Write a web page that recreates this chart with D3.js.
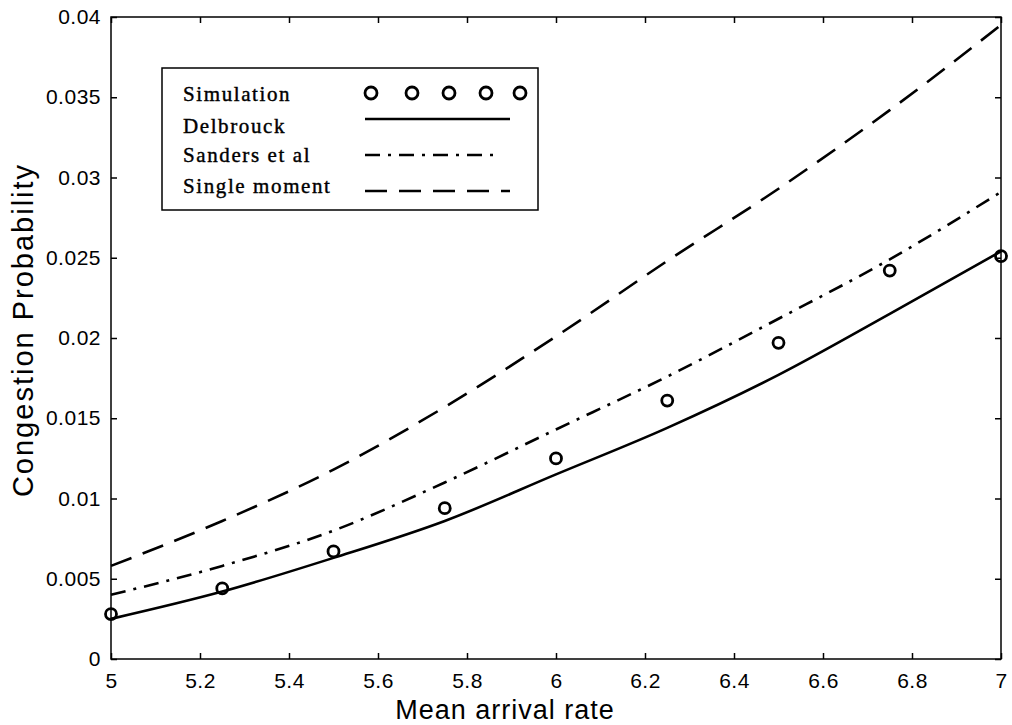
<!DOCTYPE html>
<html>
<head>
<meta charset="utf-8">
<script src="https://cdnjs.cloudflare.com/ajax/libs/d3/7.8.5/d3.min.js"></script>
<style>
    body { margin: 0; background: #fff; }
    svg { display: block; }
    .tick text { font-family: "Liberation Sans", Arial, sans-serif; }
</style>
</head>
<body>
<svg id="chart" width="1012" height="725"></svg>
<script>

// arrival rates (x) and congestion probabilities
var rates = [5, 5.25, 5.5, 5.75, 6, 6.25, 6.5, 6.75, 7];
var simulation = [0.0028, 0.0044, 0.0067, 0.0094, 0.0125, 0.0161, 0.0197, 0.0242, 0.0251];
var delbrouck = [0.0025, 0.0042, 0.0063, 0.0086, 0.0115, 0.0144, 0.0177, 0.0215, 0.0254];
var sanders = [0.0040, 0.0058, 0.0080, 0.0110, 0.0143, 0.0176, 0.0212, 0.0249, 0.0291];
var singleMoment = [0.0058, 0.0086, 0.0118, 0.0157, 0.0201, 0.0248, 0.0293, 0.0342, 0.0395];

var xTicks = [5, 5.2, 5.4, 5.6, 5.8, 6, 6.2, 6.4, 6.6, 6.8, 7];
var yTicks = [0, 0.005, 0.01, 0.015, 0.02, 0.025, 0.03, 0.035, 0.04];
var legendNames = ['Simulation', 'Delbrouck', 'Sanders et al', 'Single moment'];

const margin = {'left': 111, 'top': 17, 'right': 1001, 'bottom': 659};

var svg = d3.select('#chart');

var x = d3.scaleLinear().domain([5, 7]).range([margin.left, margin.right]);
var y = d3.scaleLinear().domain([0, 0.04]).range([margin.bottom, margin.top]);

function fmt(d) {
    return d3.format('')(+d.toFixed(3));
}

// bottom and left axes, ticks pointing inward
svg.append('g')
    .attr('transform', 'translate(0,' + margin.bottom + ')')
    .call(d3.axisBottom(x).tickValues(xTicks).tickSize(-6).tickPadding(14).tickFormat(fmt))
    .call(function(g) { g.select('.domain').remove(); });

svg.append('g')
    .attr('transform', 'translate(' + margin.left + ',0)')
    .call(d3.axisLeft(y).tickValues(yTicks).tickSize(-6).tickPadding(10).tickFormat(fmt))
    .call(function(g) { g.select('.domain').remove(); });

// top and right axes without labels
svg.append('g')
    .attr('transform', 'translate(0,' + margin.top + ')')
    .call(d3.axisTop(x).tickValues(xTicks).tickSize(-6).tickFormat(''))
    .call(function(g) { g.select('.domain').remove(); });

svg.append('g')
    .attr('transform', 'translate(' + margin.right + ',0)')
    .call(d3.axisRight(y).tickValues(yTicks).tickSize(-6).tickFormat(''))
    .call(function(g) { g.select('.domain').remove(); });

svg.selectAll('.tick line').attr('stroke', '#000').attr('stroke-width', 1.5);
svg.selectAll('.tick text')
    .attr('fill', '#000')
    .style('font-size', '21px')
    .style('letter-spacing', '0.5px');

svg.append('rect')
    .attr('x', margin.left)
    .attr('y', margin.top)
    .attr('width', margin.right - margin.left)
    .attr('height', margin.bottom - margin.top)
    .attr('fill', 'none')
    .attr('stroke', '#000')
    .attr('stroke-width', 1.5);

// axis titles
svg.append('text')
    .attr('x', 505)
    .attr('y', 719)
    .attr('text-anchor', 'middle')
    .style('font-family', '"Liberation Sans", Arial, sans-serif')
    .style('font-size', '27px')
    .style('letter-spacing', '1px')
    .text('Mean arrival rate');

svg.append('text')
    .attr('transform', 'translate(33,330) rotate(-90)')
    .attr('text-anchor', 'middle')
    .style('font-family', '"Liberation Sans", Arial, sans-serif')
    .style('font-size', '29px')
    .style('letter-spacing', '2px')
    .text('Congestion Probability');

// curves
var series = [
    {'values': delbrouck, 'dash': null},
    {'values': sanders, 'dash': '15,8,3,8'},
    {'values': singleMoment, 'dash': '22,12'}
];

var line = d3.line()
    .x(function(d) { return x(d[0]); })
    .y(function(d) { return y(d[1]); })
    .curve(d3.curveMonotoneX);

for (var i = 0; i < series.length; i++) {
    svg.append('path')
        .datum(d3.zip(rates, series[i].values))
        .attr('d', line)
        .attr('fill', 'none')
        .attr('stroke', '#000')
        .attr('stroke-width', 2.6)
        .attr('stroke-dasharray', series[i].dash);
}

svg.append('g').selectAll('circle')
    .data(d3.zip(rates, simulation))
    .join('circle')
    .attr('cx', function(d) { return x(d[0]); })
    .attr('cy', function(d) { return y(d[1]); })
    .attr('r', 5.5)
    .attr('fill', 'none')
    .attr('stroke', '#000')
    .attr('stroke-width', 2.8);

// legend
const legend = {'x': 162, 'y': 68, 'w': 376, 'h': 142};
var lg = svg.append('g');
lg.append('rect')
    .attr('x', legend.x)
    .attr('y', legend.y)
    .attr('width', legend.w)
    .attr('height', legend.h)
    .attr('fill', '#fff')
    .attr('stroke', '#000')
    .attr('stroke-width', 1.5);

var textY = [101, 133, 162, 193];
var sampleY = [93, 119, 155, 191];
var sampleEnd = [520, 510, 500, 510];

lg.selectAll('text')
    .data(legendNames)
    .join('text')
    .attr('x', legend.x + 21)
    .attr('y', function(d, k) { return textY[k]; })
    .attr('stroke', '#000')
    .attr('stroke-width', 0.4)
    .style('font-family', '"Liberation Serif", "Times New Roman", serif')
    .style('font-size', '21px')
    .style('letter-spacing', '1.6px')
    .text(function(d) { return d; });

lg.selectAll('circle')
    .data([371, 412, 449, 486, 520])
    .join('circle')
    .attr('cx', function(d) { return d; })
    .attr('cy', sampleY[0])
    .attr('r', 6)
    .attr('fill', 'none')
    .attr('stroke', '#000')
    .attr('stroke-width', 2.8);

for (var k = 0; k < series.length; k++) {
    lg.append('line')
        .attr('x1', 365)
        .attr('x2', sampleEnd[k + 1])
        .attr('y1', sampleY[k + 1])
        .attr('y2', sampleY[k + 1])
        .attr('stroke', '#000')
        .attr('stroke-width', 2.6)
        .attr('stroke-dasharray', series[k].dash);
}
</script>
</body>
</html>
